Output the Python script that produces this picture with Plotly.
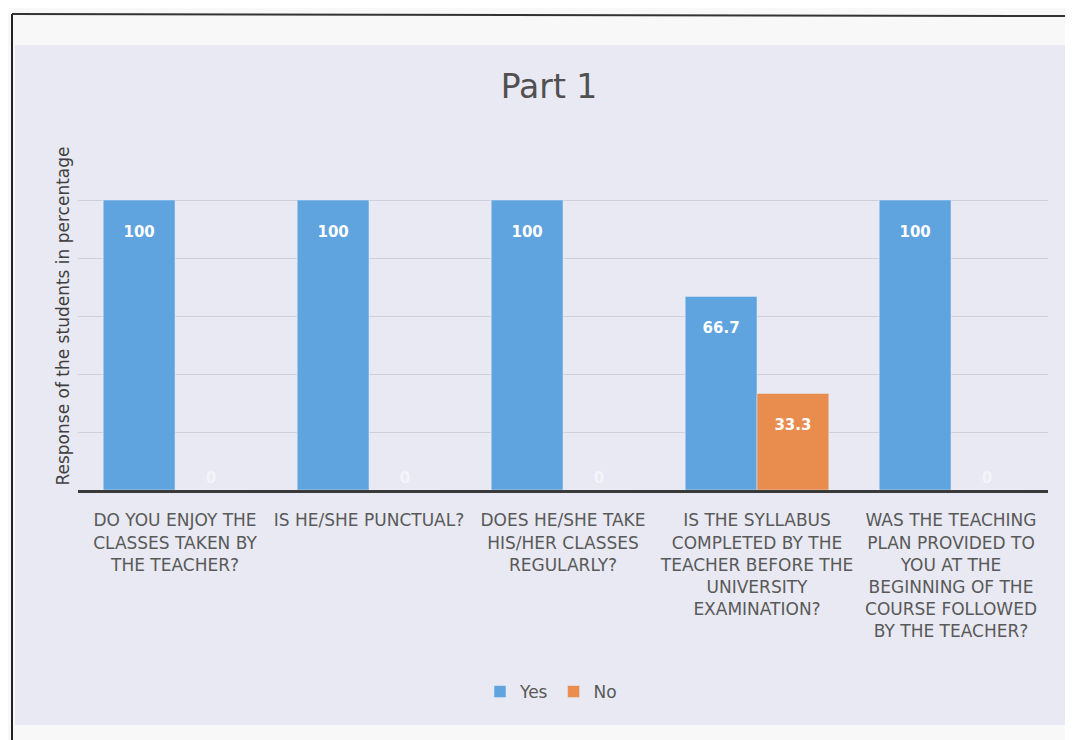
import plotly.graph_objects as go

categories = [
    "DO YOU ENJOY THE<br>CLASSES TAKEN BY<br>THE TEACHER?",
    "IS HE/SHE PUNCTUAL?",
    "DOES HE/SHE TAKE<br>HIS/HER CLASSES<br>REGULARLY?",
    "IS THE SYLLABUS<br>COMPLETED BY THE<br>TEACHER BEFORE THE<br>UNIVERSITY<br>EXAMINATION?",
    "WAS THE TEACHING<br>PLAN PROVIDED TO<br>YOU AT THE<br>BEGINNING OF THE<br>COURSE FOLLOWED<br>BY THE TEACHER?",
]
yes_values = [100, 100, 100, 66.7, 100]
no_values = [0, 0, 0, 33.3, 0]

FONT = "DejaVu Sans, Open Sans, sans-serif"
W, H = 1065, 732
L, R, T, B = 70, 25, 134, 250
PW, PH = W - L - R, H - T - B
x_pos = list(range(len(categories)))


def px_x(px):
    return (px - L) / PW


def px_y(py):
    return (H - B - py) / PH


def positions(vals):
    return ["outside" if v == 0 else "inside" for v in vals]


def labels(vals):
    return [f"{v:g}" if v == 0 else f" <br>{v:g}" for v in vals]


label_font = dict(color="white", size=15, family=FONT, weight="bold")
zero_font = dict(color="#f4f4fa", size=15, family=FONT, weight="bold")

fig = go.Figure()
fig.add_trace(go.Bar(
    name="Yes", x=x_pos, y=yes_values, marker_color="#5fa3df",
    text=labels(yes_values), textposition=positions(yes_values),
    insidetextanchor="end", textfont=label_font, outsidetextfont=zero_font,
    cliponaxis=False, constraintext="none", hoverinfo="x+y",
))
fig.add_trace(go.Bar(
    name="No", x=x_pos, y=no_values, marker_color="#e98d4f",
    text=labels(no_values), textposition=positions(no_values),
    insidetextanchor="end", textfont=label_font, outsidetextfont=zero_font,
    cliponaxis=False, constraintext="none", hoverinfo="x+y",
))

fig.update_layout(
    width=W, height=H,
    paper_bgcolor="#f8f8f9",
    plot_bgcolor="rgba(0,0,0,0)",
    margin=dict(l=L, r=R, t=T, b=B),
    barmode="group", bargap=0.26, bargroupgap=0,
    title=dict(text="Part 1", x=541 / W, xanchor="center", y=1 - 78 / H, yanchor="middle",
               font=dict(size=33, color="#505050", family=FONT)),
    font=dict(family=FONT, color="#595959"),
    legend=dict(orientation="h", x=px_x(543), xanchor="center", y=px_y(684), yanchor="middle",
                font=dict(size=17, color="#595959", family=FONT), bgcolor="rgba(0,0,0,0)",
                itemwidth=30),
    showlegend=True,
    shapes=[
        dict(type="rect", xref="paper", yref="paper", layer="below",
             x0=px_x(7), x1=px_x(W), y0=px_y(717), y1=px_y(37),
             fillcolor="#e8e9f2", line=dict(width=0)),
        dict(type="line", xref="paper", yref="paper",
             x0=px_x(4), x1=px_x(4), y0=px_y(H), y1=px_y(6),
             line=dict(color="#222222", width=2)),
        dict(type="line", xref="paper", yref="paper",
             x0=px_x(4), x1=px_x(W), y0=px_y(6), y1=px_y(8),
             line=dict(color="#333333", width=2)),
    ],
)
fig.update_xaxes(
    tickmode="array", tickvals=x_pos, ticktext=categories,
    tickfont=dict(size=17, color="#595959", family=FONT),
    showgrid=False, zeroline=False, ticks="", ticklabelstandoff=13,
    showline=True, linecolor="#3a3a3a", linewidth=3,
    range=[-0.5, len(categories) - 0.5],
)
fig.update_yaxes(
    range=[0, 120], dtick=20, showticklabels=False, ticks="",
    showgrid=True, gridcolor="#cfd0da", gridwidth=1, zeroline=False,
    title=dict(text="Response of the students in percentage", standoff=3,
               font=dict(size=17, color="#404040", family=FONT)),
)

fig.write_html("out.html")
